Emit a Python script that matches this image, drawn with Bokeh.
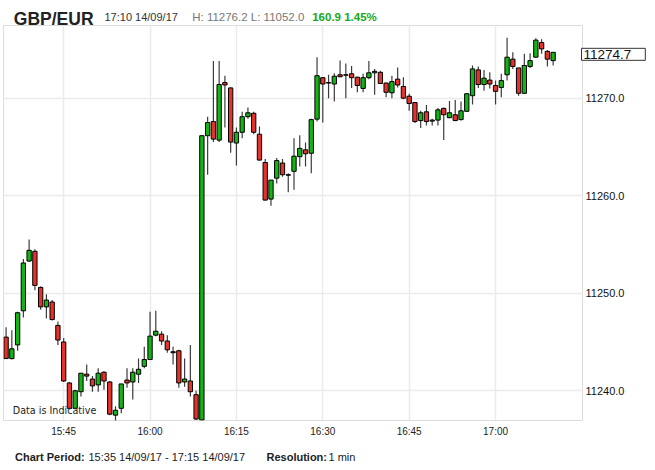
import pandas as pd
from bokeh.plotting import figure
from bokeh.models import (Range1d, FixedTicker, DatetimeTickFormatter, Label,
                          NumeralTickFormatter, ColumnDataSource)
from bokeh.embed import file_html
from bokeh.resources import INLINE

# ---------------- data ----------------
symbol = "GBP/EUR"
quote_time = "17:10 14/09/17"
high_low = "H: 11276.2 L: 11052.0"
change_text = "160.9 1.45%"
period_label = "Chart Period:"
period_text = "15:35 14/09/17 - 17:15 14/09/17"
resolution_label = "Resolution:"
resolution_text = "1 min"
indicative = "Data is Indicative"
start_time = "2017-09-14 15:35"
range_start = "2017-09-14 15:34:33"
range_end = "2017-09-14 17:15:06"

open_ = [11245.5, 11243.3, 11244.7, 11248.2, 11253.3, 11254.3, 11250.6, 11248.6, 11249.1, 11246.7,
         11245.0, 11240.8, 11238.2, 11239.9, 11241.7, 11241.2, 11240.6, 11241.9, 11240.9, 11237.5,
         11238.2, 11241.1, 11240.9, 11241.7, 11242.5, 11243.2, 11245.7, 11245.8, 11245.1, 11244.0,
         11244.1, 11240.9, 11241.0, 11239.6, 11237.0, 11266.15, 11267.6, 11265.7, 11271.6, 11271.05,
         11265.4, 11266.5, 11268.1, 11268.45, 11266.3, 11263.4, 11259.65, 11261.8, 11263.35, 11262.15,
         11262.5, 11264.0, 11264.7, 11264.35, 11267.85, 11272.1, 11271.6, 11271.45, 11272.4, 11272.4,
         11272.5, 11272.15, 11271.0, 11272.1, 11272.6, 11272.65, 11271.55, 11270.55, 11271.95, 11271.2,
         11270.2, 11269.55, 11267.7, 11268.6, 11267.65, 11267.75, 11268.95, 11268.0, 11268.3, 11267.8,
         11268.65, 11270.25, 11272.9, 11271.4, 11271.85, 11271.3, 11271.1, 11272.4, 11274.0, 11273.1,
         11270.5, 11273.25, 11274.2, 11275.7, 11274.8, 11273.85]
high = [11246.5, 11246.2, 11248.1, 11253.5, 11255.5, 11254.5, 11250.7, 11249.9, 11249.3, 11247.1,
        11245.4, 11240.9, 11240.1, 11241.8, 11242.7, 11241.5, 11242.3, 11242.0, 11241.0, 11238.4,
        11240.7, 11242.3, 11242.3, 11243.3, 11244.5, 11248.1, 11248.2, 11246.1, 11245.7, 11244.5,
        11244.2, 11243.3, 11244.7, 11240.0, 11266.2, 11268.1, 11273.8, 11273.8, 11272.3, 11271.1,
        11267.0, 11268.6, 11269.05, 11268.6, 11267.1, 11263.75, 11261.6, 11263.87, 11263.75, 11262.3,
        11265.9, 11266.2, 11265.45, 11267.9, 11274.2, 11272.15, 11272.4, 11272.55, 11273.85, 11273.55,
        11273.3, 11272.2, 11272.5, 11273.8, 11273.0, 11272.8, 11271.6, 11272.3, 11273.15, 11272.15,
        11270.45, 11269.6, 11268.7, 11269.3, 11267.9, 11269.0, 11269.05, 11269.7, 11269.8, 11269.65,
        11270.5, 11273.35, 11273.25, 11272.9, 11272.65, 11271.8, 11272.5, 11276.2, 11274.7, 11273.1,
        11274.55, 11274.6, 11276.15, 11276.05, 11274.95, 11274.7]
low = [11243.3, 11243.2, 11244.1, 11247.5, 11253.2, 11250.3, 11248.3, 11247.4, 11247.2, 11244.7,
       11240.9, 11238.1, 11238.1, 11239.4, 11241.0, 11239.9, 11239.9, 11240.1, 11237.5, 11236.9,
       11237.7, 11240.3, 11239.1, 11240.8, 11242.3, 11243.2, 11245.6, 11244.7, 11243.9, 11242.7,
       11240.3, 11240.4, 11239.4, 11237.0, 11236.95, 11262.15, 11265.5, 11265.5, 11267.0, 11264.4,
       11263.1, 11265.9, 11267.9, 11266.3, 11263.6, 11259.5, 11258.97, 11261.25, 11261.95, 11260.35,
       11260.6, 11263.0, 11263.0, 11262.3, 11267.6, 11267.5, 11270.0, 11269.65, 11272.15, 11270.0,
       11271.05, 11270.6, 11270.6, 11271.95, 11270.35, 11271.45, 11270.1, 11270.0, 11271.1, 11269.9,
       11268.7, 11267.45, 11266.95, 11267.2, 11267.2, 11267.2, 11265.7, 11267.95, 11267.7, 11267.7,
       11268.6, 11269.35, 11271.05, 11270.75, 11271.0, 11269.35, 11270.1, 11271.8, 11273.0, 11270.25,
       11270.45, 11273.1, 11274.2, 11274.55, 11273.25, 11273.35]
close = [11243.3, 11244.3, 11248.0, 11253.1, 11254.4, 11250.8, 11248.6, 11249.3, 11247.3, 11245.2,
         11241.0, 11238.2, 11240.0, 11241.8, 11241.5, 11240.5, 11241.8, 11241.0, 11237.6, 11238.0,
         11240.7, 11240.8, 11241.9, 11242.2, 11243.2, 11245.6, 11246.1, 11245.1, 11244.2, 11243.9,
         11240.8, 11241.2, 11239.9, 11237.1, 11266.15, 11267.5, 11265.8, 11271.4, 11271.35, 11265.5,
         11266.5, 11268.1, 11268.5, 11266.5, 11263.65, 11259.55, 11261.6, 11263.6, 11262.15, 11262.1,
         11264.05, 11264.85, 11264.3, 11267.8, 11272.3, 11271.45, 11271.55, 11272.25, 11272.2, 11272.35,
         11272.1, 11271.3, 11272.1, 11272.6, 11272.75, 11271.5, 11270.6, 11271.7, 11271.35, 11270.0,
         11269.45, 11267.6, 11268.5, 11267.6, 11267.75, 11268.8, 11268.3, 11268.5, 11267.7, 11268.7,
         11270.45, 11273.0, 11271.4, 11272.05, 11271.45, 11270.7, 11271.8, 11274.2, 11273.25, 11270.5,
         11273.35, 11273.85, 11275.95, 11275.05, 11274.0, 11274.7]

x_tick_labels = ["15:45", "16:00", "16:15", "16:30", "16:45", "17:00"]
y_ticks = [11240, 11250, 11260, 11270]
y_min, y_max = 11236.95, 11277.45

UP = "#14b414"
DOWN = "#e5322a"

# ---------------- build ----------------
def ms(ts):
    return pd.Timestamp(ts).value / 1e6

times = pd.date_range(start_time, periods=len(open_), freq="1min")
t_ms = [ms(t) for t in times]
day = start_time.split(" ")[0]
x_ticks = [ms(day + " " + s) for s in x_tick_labels]

src = ColumnDataSource(dict(
    t=t_ms, open=open_, high=high, low=low, close=close,
    top=[max(o, c) for o, c in zip(open_, close)],
    bottom=[min(o, c) for o, c in zip(open_, close)],
    color=[UP if c >= o else DOWN for o, c in zip(open_, close)],
))

x0, x1 = ms(range_start), ms(range_end)

# A tall top border holds the (unclipped) side-panel labels; the figure is
# shifted up so that the plot frame starts 25px from the top of the page.
TOP = 220
p = figure(width=647, height=TOP + 395 + 42, output_backend="svg", toolbar_location=None,
           x_axis_type="datetime", y_axis_location="right",
           x_range=Range1d(x0, x1), y_range=Range1d(y_min, y_max),
           min_border_left=3, min_border_right=65, min_border_top=TOP, min_border_bottom=42)
p.styles = {"margin-top": "%dpx" % (25 - TOP)}
p.background_fill_color = "white"
p.border_fill_color = "white"
p.outline_line_color = "#dcdcdc"
p.outline_line_width = 1

# grids
p.xgrid.ticker = FixedTicker(ticks=x_ticks)
p.ygrid.ticker = FixedTicker(ticks=y_ticks)
for g in (p.xgrid, p.ygrid):
    g.grid_line_color = "#ebebeb"
    g.grid_line_width = 1.5

# axes
xa = p.xaxis[0]
xa.ticker = FixedTicker(ticks=x_ticks)
fmt = "%H:%M"
xa.formatter = DatetimeTickFormatter(microseconds=fmt, milliseconds=fmt, seconds=fmt, minsec=fmt,
                                     minutes=fmt, hourmin=fmt, hours=fmt, days=fmt,
                                     months=fmt, years=fmt)
xa.axis_line_color = None
xa.major_tick_line_color = None
xa.minor_tick_line_color = None
xa.major_tick_out = 0
xa.major_tick_in = 0
xa.minor_tick_out = 0
xa.major_label_standoff = 5
xa.major_label_text_font = "Liberation Sans"
xa.major_label_text_font_size = "10px"
xa.major_label_text_color = "#222222"

ya = p.yaxis[0]
ya.ticker = FixedTicker(ticks=y_ticks)
ya.formatter = NumeralTickFormatter(format="0.0")
ya.axis_line_color = None
ya.major_tick_line_color = None
ya.minor_tick_line_color = None
ya.major_tick_out = 0
ya.major_tick_in = 0
ya.minor_tick_out = 0
ya.major_label_standoff = 3
ya.major_label_text_font = "Liberation Sans"
ya.major_label_text_font_size = "11px"
ya.major_label_text_color = "#111111"

# candles
p.segment(x0="t", y0="high", x1="t", y1="low", source=src,
          line_color="#3c3c3c", line_width=1.2)
p.vbar(x="t", width=45000, top="top", bottom="bottom", source=src,
       fill_color="color", line_color="black", line_width=1)

# last price box (placed in a side panel so it is not clipped to the frame)
p.add_layout(Label(x=x1, y=close[-1], x_units="data", y_units="data",
                   text="%.1f" % close[-1], x_offset=-1, y_offset=-2,
                   text_align="left", text_baseline="middle",
                   text_font="Liberation Sans", text_font_size="13.5px", text_color="#111111",
                   border_line_color="#333333", border_line_width=1,
                   background_fill_color="white", padding=(2, 14, 2, 1)), "above")

def lab(x_off, anchor_y, y_off, text, size, color="#222222", style="normal",
        font="Liberation Sans", baseline="alphabetic", side="above"):
    L = Label(x=x0, y=anchor_y, x_units="data", y_units="data",
              x_offset=x_off, y_offset=y_off, text=text,
              text_font=font, text_font_size=size, text_color=color,
              text_font_style=style, text_baseline=baseline, text_align="left")
    if side == "center":
        p.add_layout(L)
    else:
        p.add_layout(L, side)

# header (offsets in px from the frame's top-left corner)
lab(10.3, y_max, 6.7, symbol, "17.5px", "#222222", "bold")
lab(101, y_max, 8.3, quote_time, "11px", "#333333")
lab(188.7, y_max, 8.3, high_low, "11.5px", "#777777")
lab(308.7, y_max, 8.3, change_text, "11.5px", "#18a818", "bold")

# indicative note (inside the frame)
lab(9.3, y_min, 10, indicative, "9.6px", "#222222", font="DejaVu Sans",
    baseline="middle", side="center")

# footer (offsets in px from the frame's bottom-left corner)
lab(11.5, y_min, -36, period_label, "11px", "#222222", "bold", baseline="middle")
lab(85, y_min, -36, period_text, "11px", "#222222", baseline="middle")
lab(263, y_min, -36, resolution_label, "11px", "#222222", "bold", baseline="middle")
lab(325, y_min, -36, resolution_text, "11px", "#222222", baseline="middle")

open("out.html", "w").write(file_html(p, INLINE))
